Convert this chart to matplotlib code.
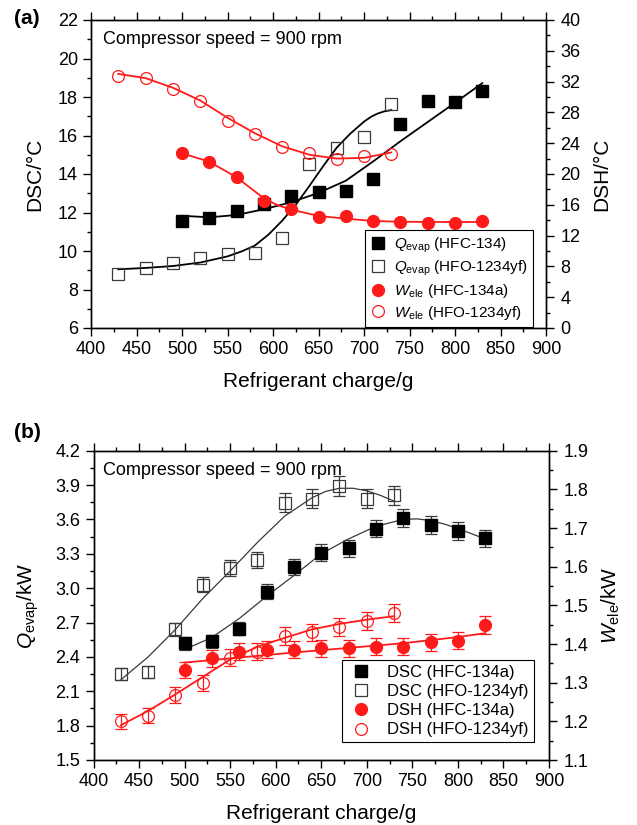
import numpy as np
import matplotlib.pyplot as plt
from matplotlib.ticker import MultipleLocator, FormatStrFormatter

plt.rcParams['font.family'] = ['Liberation Sans', 'DejaVu Sans']
plt.rcParams['mathtext.fontset'] = 'custom'
plt.rcParams['mathtext.rm'] = 'Liberation Sans'
plt.rcParams['mathtext.it'] = 'Liberation Sans:italic'

# refrigerant charge (g)
m_134a = [500, 530, 560, 590, 620, 650, 680, 710, 740, 770, 800, 830]
m_yf = [430, 460, 490, 520, 550, 580, 610, 640, 670, 700, 730]

# (a) DSC / DSH measured
dsc_134a = [11.56, 11.73, 12.09, 12.43, 12.86, 13.05, 13.13, 13.72, 16.6, 17.78, 17.74, 18.33]
dsc_yf = [8.81, 9.10, 9.36, 9.65, 9.83, 9.91, 10.66, 14.5, 15.37, 15.91, 17.64]
dsh_134a = [22.69, 21.6, 19.57, 16.53, 15.41, 14.46, 14.55, 13.9, 13.81, 13.59, 13.68, 13.9]
dsh_yf = [32.68, 32.42, 31.0, 29.48, 26.88, 25.19, 23.47, 22.77, 22.0, 22.4, 22.55]

# (a) fitted curves
dsc_134a_fit_x = [500, 530, 560, 590, 620, 650, 680, 710, 740, 770, 800, 830]
dsc_134a_fit = [11.83, 11.75, 11.87, 12.17, 12.53, 13.02, 13.65, 14.65, 15.7, 16.7, 17.7, 18.72]
dsc_yf_fit_x = [430, 460, 490, 520, 550, 565, 580, 595, 610, 625, 640, 655, 670, 685, 700, 708, 715, 722, 730]
dsc_yf_fit = [9.05, 9.12, 9.22, 9.40, 9.72, 9.97, 10.28, 10.85, 11.57, 12.4, 13.38, 14.4, 15.37, 16.1, 16.72, 16.98, 17.14, 17.25, 17.32]
dsh_134a_fit_x = [500, 530, 560, 575, 590, 605, 620, 650, 680, 710, 740, 770, 800, 830]
dsh_134a_fit = [22.69, 21.6, 19.57, 18.2, 16.84, 15.95, 15.38, 14.55, 14.2, 13.9, 13.8, 13.77, 13.77, 13.77]
dsh_yf_fit_x = [430, 460, 490, 520, 550, 580, 610, 640, 670, 700, 730]
dsh_yf_fit = [33.0, 32.45, 31.2, 29.55, 27.3, 25.3, 23.6, 22.5, 22.0, 22.1, 22.8]

# (b) Qevap / Wele measured
q_134a = [2.52, 2.535, 2.645, 2.97, 3.185, 3.31, 3.35, 3.52, 3.615, 3.555, 3.50, 3.435]
q_yf = [2.25, 2.27, 2.64, 3.03, 3.18, 3.245, 3.745, 3.78, 3.89, 3.78, 3.81]
w_134a = [1.333, 1.363, 1.380, 1.385, 1.385, 1.389, 1.389, 1.393, 1.393, 1.404, 1.409, 1.449]
w_yf = [1.20, 1.214, 1.268, 1.30, 1.365, 1.38, 1.42, 1.43, 1.445, 1.46, 1.48]
q_rel_err = 0.022   # relative size of error bars
w_rel_err = 0.016

# (b) fitted curves
q_yf_fit_x = [430, 460, 490, 520, 550, 580, 610, 640, 655, 670, 685, 700, 715, 730]
q_yf_fit = [2.20, 2.40, 2.64, 2.91, 3.15, 3.40, 3.63, 3.79, 3.845, 3.872, 3.872, 3.85, 3.81, 3.76]
q_134a_fit_x = [500, 530, 560, 590, 620, 650, 680, 710, 740, 755, 770, 785, 800, 815, 830]
q_134a_fit = [2.465, 2.57, 2.735, 2.93, 3.11, 3.30, 3.43, 3.54, 3.60, 3.605, 3.59, 3.56, 3.52, 3.475, 3.43]
w_134a_fit_x = [500, 560, 620, 680, 740, 800, 830]
w_134a_fit = [1.352, 1.365, 1.378, 1.390, 1.402, 1.418, 1.428]
w_yf_fit_x = [430, 460, 490, 520, 550, 580, 610, 640, 670, 700, 730]
w_yf_fit = [1.19, 1.227, 1.27, 1.315, 1.36, 1.393, 1.416, 1.438, 1.452, 1.463, 1.472]

RED = '#ff1a1a'
GREY = '#3a3a3a'


def style(ax, ax2):
    for a in (ax, ax2):
        for s in a.spines.values():
            s.set_linewidth(1.0)
    ax.tick_params(which='both', direction='out', top=True, right=False, labelsize=13, width=1.0, pad=4)
    ax.tick_params(which='major', length=5.5)
    ax.tick_params(which='minor', length=3)
    ax2.tick_params(which='both', direction='out', labelsize=13, width=1.0, pad=5)
    ax2.tick_params(which='major', length=5.5)
    ax2.tick_params(which='minor', length=3)
    ax.set_xlim(400, 900)
    ax.xaxis.set_major_locator(MultipleLocator(50))
    ax.xaxis.set_minor_locator(MultipleLocator(25))
    ax.set_xlabel('Refrigerant charge/g', fontsize=15, labelpad=10)


fig = plt.figure(figsize=(6.37, 8.25), dpi=100)

# ---------- (a) ----------
axa = fig.add_axes([91 / 637, 1 - 328 / 825, 455 / 637, 308 / 825])
axa2 = axa.twinx()
style(axa, axa2)

axa.plot(dsc_134a_fit_x, dsc_134a_fit, '-', color='k', lw=1.3)
axa.plot(dsc_yf_fit_x, dsc_yf_fit, '-', color='k', lw=1.3)
h1, = axa.plot(m_134a, dsc_134a, 's', color='k', ms=8, label=r'$Q_{\rm evap}$ (HFC-134)')
h2, = axa.plot(m_yf, dsc_yf, 's', mfc='none', mec=GREY, mew=0.9, ms=8, label=r'$Q_{\rm evap}$ (HFO-1234yf)')
axa2.plot(dsh_134a_fit_x, dsh_134a_fit, '-', color=RED, lw=1.3)
axa2.plot(dsh_yf_fit_x, dsh_yf_fit, '-', color=RED, lw=1.3)
h3, = axa2.plot(m_134a, dsh_134a, 'o', color=RED, ms=8.5, label=r'$W_{\rm ele}$ (HFC-134a)')
h4, = axa2.plot(m_yf, dsh_yf, 'o', mfc='none', mec=RED, mew=0.9, ms=8.5, label=r'$W_{\rm ele}$ (HFO-1234yf)')

axa.set_ylim(6, 22)
axa.yaxis.set_major_locator(MultipleLocator(2))
axa.yaxis.set_minor_locator(MultipleLocator(1))
axa2.set_ylim(0, 40)
axa2.yaxis.set_major_locator(MultipleLocator(4))
axa2.yaxis.set_minor_locator(MultipleLocator(2))
axa.set_ylabel('DSC/°C', fontsize=15, labelpad=10)
axa2.set_ylabel('DSH/°C', fontsize=15, labelpad=8)
axa.text(0.026, 0.938, 'Compressor speed = 900 rpm', transform=axa.transAxes, fontsize=13, va='center')
leg = axa2.legend(handles=[h1, h2, h3, h4], loc='lower right', bbox_to_anchor=(0.971, 0.003),
                  fontsize=11, frameon=True, fancybox=False, framealpha=1, edgecolor='k',
                  borderpad=0.35, labelspacing=0.25, handlelength=1.0, handletextpad=0.5, borderaxespad=0)
leg.get_frame().set_linewidth(0.8)
fig.text(14 / 637, 1 - 18 / 825, '(a)', fontsize=15, fontweight='bold', va='center')

# ---------- (b) ----------
axb = fig.add_axes([93.5 / 637, 1 - 760 / 825, 455.5 / 637, 309.3 / 825])
axb2 = axb.twinx()
style(axb, axb2)

q134 = np.array(q_134a)
qyf = np.array(q_yf)
w134 = np.array(w_134a)
wyf = np.array(w_yf)
eb = dict(fmt='none', elinewidth=0.9, capsize=4, capthick=0.9)

axb.plot(q_yf_fit_x, q_yf_fit, '-', color=GREY, lw=0.9)
axb.plot(q_134a_fit_x, q_134a_fit, '-', color=GREY, lw=0.9)
axb.errorbar(m_134a, q134, yerr=q134 * q_rel_err, ecolor=GREY, **eb)
axb.errorbar(m_yf, qyf, yerr=qyf * q_rel_err, ecolor=GREY, **eb)
g1, = axb.plot(m_134a, q134, 's', color='k', ms=8, label='DSC (HFC-134a)')
g2, = axb.plot(m_yf, qyf, 's', mfc='none', mec=GREY, mew=0.9, ms=8, label='DSC (HFO-1234yf)')

axb2.plot(w_yf_fit_x, w_yf_fit, '-', color=RED, lw=1.3)
axb2.plot(w_134a_fit_x, w_134a_fit, '-', color=RED, lw=1.3)
axb2.errorbar(m_134a, w134, yerr=w134 * w_rel_err, ecolor=RED, **eb)
axb2.errorbar(m_yf, wyf, yerr=wyf * w_rel_err, ecolor=RED, **eb)
g3, = axb2.plot(m_134a, w134, 'o', color=RED, ms=8.5, label='DSH (HFC-134a)')
g4, = axb2.plot(m_yf, wyf, 'o', mfc='none', mec=RED, mew=0.9, ms=8.5, label='DSH (HFO-1234yf)')

axb.set_ylim(1.5, 4.2)
axb.yaxis.set_major_locator(MultipleLocator(0.3))
axb.yaxis.set_minor_locator(MultipleLocator(0.15))
axb.yaxis.set_major_formatter(FormatStrFormatter('%.1f'))
axb2.set_ylim(1.1, 1.9)
axb2.yaxis.set_major_locator(MultipleLocator(0.1))
axb2.yaxis.set_minor_locator(MultipleLocator(0.05))
axb2.yaxis.set_major_formatter(FormatStrFormatter('%.1f'))
axb.set_ylabel(r'$Q_{\rm evap}$/kW', fontsize=15, labelpad=10)
axb2.set_ylabel(r'$W_{\rm ele}$/kW', fontsize=15, labelpad=8)
axb.text(0.02, 0.9376, 'Compressor speed = 900 rpm', transform=axb.transAxes, fontsize=13, va='center')
leg = axb2.legend(handles=[g1, g2, g3, g4], loc='lower right', bbox_to_anchor=(0.967, 0.057),
                  fontsize=12, frameon=True, fancybox=False, framealpha=1, edgecolor='k',
                  borderpad=0.3, labelspacing=0.25, handlelength=1.6, handletextpad=0.8, borderaxespad=0)
leg.get_frame().set_linewidth(0.8)
fig.text(14 / 637, 1 - 432 / 825, '(b)', fontsize=15, fontweight='bold', va='center')

fig.savefig('out.png', dpi=100)
